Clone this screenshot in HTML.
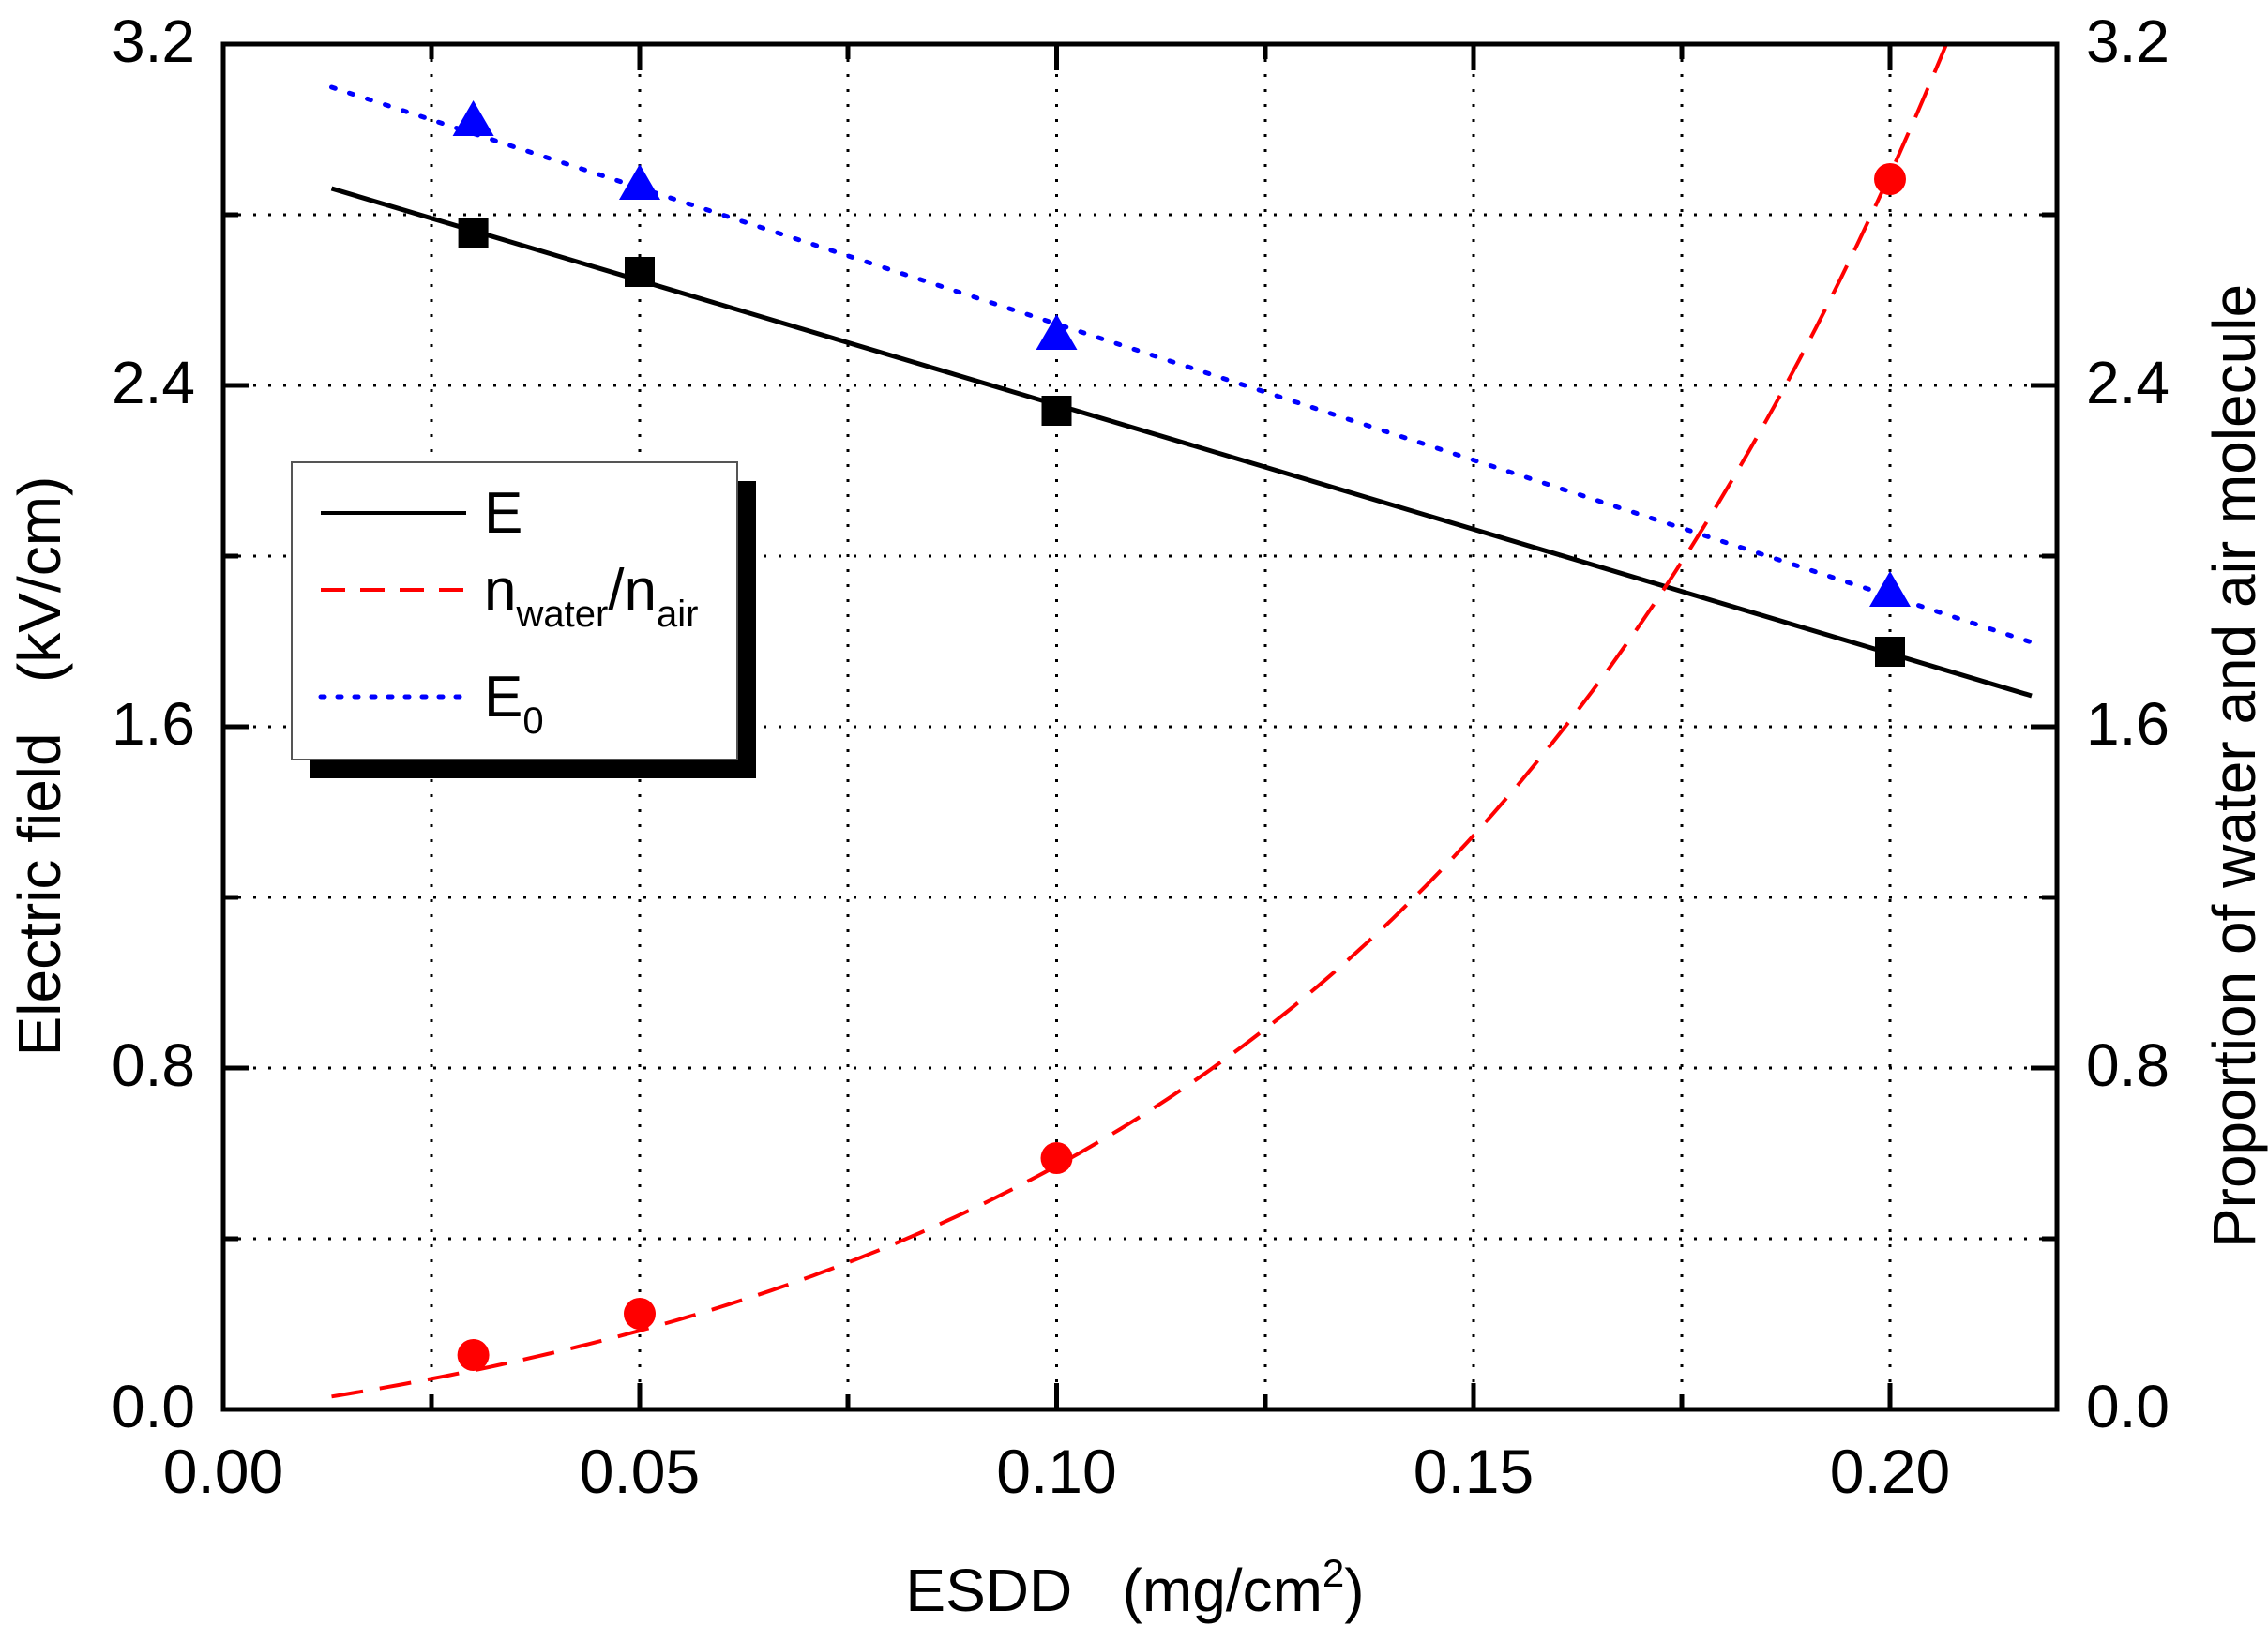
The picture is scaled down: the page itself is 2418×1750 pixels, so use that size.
<!DOCTYPE html>
<html><head><meta charset="utf-8"><style>
html,body{margin:0;padding:0;background:#fff}
svg{display:block}
text{font-family:"Liberation Sans",Arial,sans-serif;fill:#000}
</style></head><body>
<svg id="s" width="2418" height="1750" viewBox="0 0 2418 1750" xmlns="http://www.w3.org/2000/svg">
<g stroke="#000" stroke-width="3" stroke-dasharray="3,13" fill="none">
<path d="M460 47V1503M682 47V1503M904 47V1503M1126.5 47V1503M1349 47V1503M1571 47V1503M1793 47V1503M2015 47V1503"/>
<path d="M238 1321H2193M238 1139H2193M238 957H2193M238 775H2193M238 593H2193M238 411H2193M238 229H2193"/>
</g>
<g stroke="#000" stroke-width="5" fill="none">
<path d="M238 1139h28M238 775h28M238 411h28M2193 1139h-28M2193 775h-28M2193 411h-28M238 1321h16M238 957h16M238 593h16M238 229h16M2193 1321h-16M2193 957h-16M2193 593h-16M2193 229h-16"/>
<path d="M682 1503v-28M1126.5 1503v-28M1571 1503v-28M2015 1503v-28M460 1503v-16M904 1503v-16M1349 1503v-16M1793 1503v-16M682 47v28M1126.5 47v28M1571 47v28M2015 47v28M460 47v16M904 47v16M1349 47v16M1793 47v16"/>
</g>
<defs><clipPath id="c"><rect x="238" y="47" width="1955" height="1456"/></clipPath></defs>
<path d="M353.5 201L2166 742" stroke="#000" stroke-width="5" fill="none"/>
<path d="M353.5 93L2166 685" stroke="#0000ff" stroke-width="5" stroke-dasharray="4,16" stroke-linecap="round" fill="none"/>
<path id="curve" clip-path="url(#c)" stroke="#ff0000" stroke-width="4" stroke-dasharray="34,18" fill="none" d=""/>
<g fill="#000">
<rect x="488.6" y="232" width="32" height="32"/><rect x="666" y="274" width="32" height="32"/><rect x="1110.5" y="422" width="32" height="32"/><rect x="1999" y="679" width="32" height="32"/>
</g>
<g fill="#0000ff">
<path d="M504.6 107l22 38h-44z"/><path d="M682 175l22 38h-44z"/><path d="M1126.5 335l22 38h-44z"/><path d="M2015 609l22 38h-44z"/>
</g>
<g fill="#ff0000">
<circle cx="504.6" cy="1445" r="17"/><circle cx="682" cy="1401" r="17"/><circle cx="1126.5" cy="1235" r="17"/><circle cx="2015" cy="191" r="17"/>
</g>
<rect x="238" y="47" width="1955" height="1456" fill="none" stroke="#000" stroke-width="5"/>
<rect x="331" y="513" width="475" height="317" fill="#000"/>
<rect x="311" y="493" width="475" height="317" fill="#fff" stroke="#555" stroke-width="2"/>
<path d="M342 547H497" stroke="#000" stroke-width="4"/>
<path d="M342 629H497" stroke="#ff0000" stroke-width="4" stroke-dasharray="26,16"/>
<path d="M342 743H497" stroke="#0000ff" stroke-width="5" stroke-dasharray="4,14" stroke-linecap="round"/>
<g font-size="62">
<text x="516" y="568">E</text>
<text x="516" y="650">n<tspan font-size="40" dy="18">water</tspan><tspan dy="-18">/n</tspan><tspan font-size="40" dy="18">air</tspan></text>
<text x="516" y="764">E<tspan font-size="40" dy="18">0</tspan></text>
</g>
<g font-size="64" text-anchor="end">
<text x="208" y="66">3.2</text><text x="208" y="430">2.4</text><text x="208" y="794">1.6</text><text x="208" y="1158">0.8</text><text x="208" y="1522">0.0</text>
</g>
<g font-size="64" text-anchor="start">
<text x="2224" y="66">3.2</text><text x="2224" y="430">2.4</text><text x="2224" y="794">1.6</text><text x="2224" y="1158">0.8</text><text x="2224" y="1522">0.0</text>
</g>
<g font-size="66" text-anchor="middle">
<text x="238" y="1592">0.00</text><text x="682" y="1592">0.05</text><text x="1126.5" y="1592">0.10</text><text x="1571" y="1592">0.15</text><text x="2015" y="1592">0.20</text>
</g>
<text x="1210" y="1718" font-size="64" text-anchor="middle" xml:space="preserve">ESDD   (mg/cm<tspan font-size="42" dy="-26">2</tspan><tspan dy="26">)</tspan></text>
<text transform="translate(64 817) rotate(-90)" font-size="64" text-anchor="middle" xml:space="preserve">Electric field   (kV/cm)</text>
<text transform="translate(2404 817) rotate(-90)" font-size="64" text-anchor="middle">Proportion of water and air molecule</text>
</svg>
<script>
var d="";for(var i=0;i<=200;i++){var x=0.013+i*(0.2-0.013+0.012)/200;var y=-0.2+0.192*Math.exp(13.9*x);var px=238+x*8885,py=1503-y*455;d+=(i?"L":"M")+px.toFixed(1)+" "+py.toFixed(1);}
document.getElementById("curve").setAttribute("d",d);
</script>
</body></html>
